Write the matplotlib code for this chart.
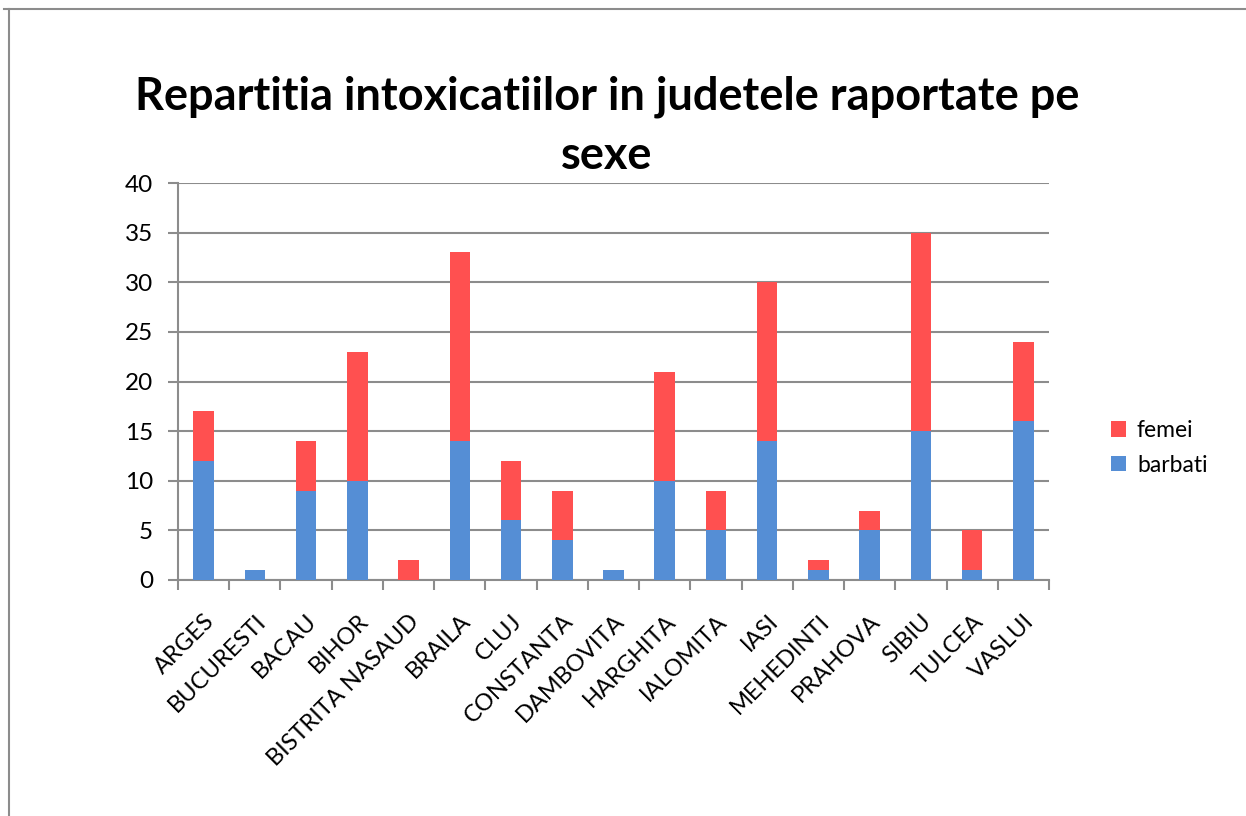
import matplotlib
matplotlib.use("Agg")
import matplotlib.pyplot as plt
from matplotlib.lines import Line2D
import numpy as np

# Data
judete = ["ARGES", "BUCURESTI", "BACAU", "BIHOR", "BISTRITA NASAUD", "BRAILA",
          "CLUJ", "CONSTANTA", "DAMBOVITA", "HARGHITA", "IALOMITA", "IASI",
          "MEHEDINTI", "PRAHOVA", "SIBIU", "TULCEA", "VASLUI"]
barbati = [12, 1, 9, 10, 0, 14, 6, 4, 1, 10, 5, 14, 1, 5, 15, 1, 16]
femei = [5, 0, 5, 13, 2, 19, 6, 5, 0, 11, 4, 16, 1, 2, 20, 4, 8]

BLUE = "#558ED5"
RED = "#FF5050"
GRID = "#8C8C8C"

plt.rcParams["font.family"] = ["Lato", "DejaVu Sans"]

W, H = 1246, 816
fig = plt.figure(figsize=(W / 100, H / 100), dpi=100)
ax = fig.add_axes([178 / W, 1 - 580 / H, (1049 - 178) / W, (580 - 183) / H])

x = np.arange(len(judete))
ax.bar(x, barbati, width=0.4, color=BLUE, label="barbati", zorder=3)
ax.bar(x, femei, width=0.4, bottom=barbati, color=RED, label="femei", zorder=3)

ax.set_xlim(-0.5, len(judete) - 0.5)
ax.set_ylim(0, 40)
ax.set_yticks(range(0, 41, 5))
ax.yaxis.grid(True, color=GRID, linewidth=1.5, zorder=0)
ax.tick_params(axis="y", length=7, width=1.5, color=GRID, labelsize=17.5, pad=11)

# category boundaries carry the tick marks, labels sit under the bars
ax.set_xticks(np.arange(-0.5, len(judete), 1.0))
ax.set_xticklabels([])
ax.set_xticks(x, minor=True)
ax.set_xticklabels(judete, minor=True, rotation=45, ha="right",
                   rotation_mode="anchor", fontsize=17)
ax.tick_params(axis="x", which="major", length=7, width=1.5, color=GRID)
ax.tick_params(axis="x", which="minor", length=0, pad=22)

for side in ["top", "right"]:
    ax.spines[side].set_visible(False)
for side in ["left", "bottom"]:
    ax.spines[side].set_color(GRID)
    ax.spines[side].set_linewidth(1.5)

fig.text(607 / W, 1 - 97 / H, "Repartitia intoxicatiilor in judetele raportate pe",
         ha="center", va="center", fontsize=32.5, fontweight="bold")
fig.text(607 / W, 1 - 156 / H, "sexe",
         ha="center", va="center", fontsize=32.5, fontweight="bold")

handles, labels = ax.get_legend_handles_labels()
fig.legend(handles[::-1], labels[::-1], loc="center left",
           bbox_to_anchor=(1090 / W, 1 - 448 / H), frameon=False,
           fontsize=16.5, handlelength=0.65, handleheight=0.65,
           handletextpad=0.5, labelspacing=0.6)

# outer chart frame (top and left edges visible)
fig.add_artist(Line2D([4 / W, 1], [1 - 9 / H, 1 - 9 / H], color=GRID, linewidth=1.5))
fig.add_artist(Line2D([9 / W, 9 / W], [0, 1 - 9 / H], color=GRID, linewidth=1.5))

fig.savefig("out.png", dpi=100, facecolor="white")
